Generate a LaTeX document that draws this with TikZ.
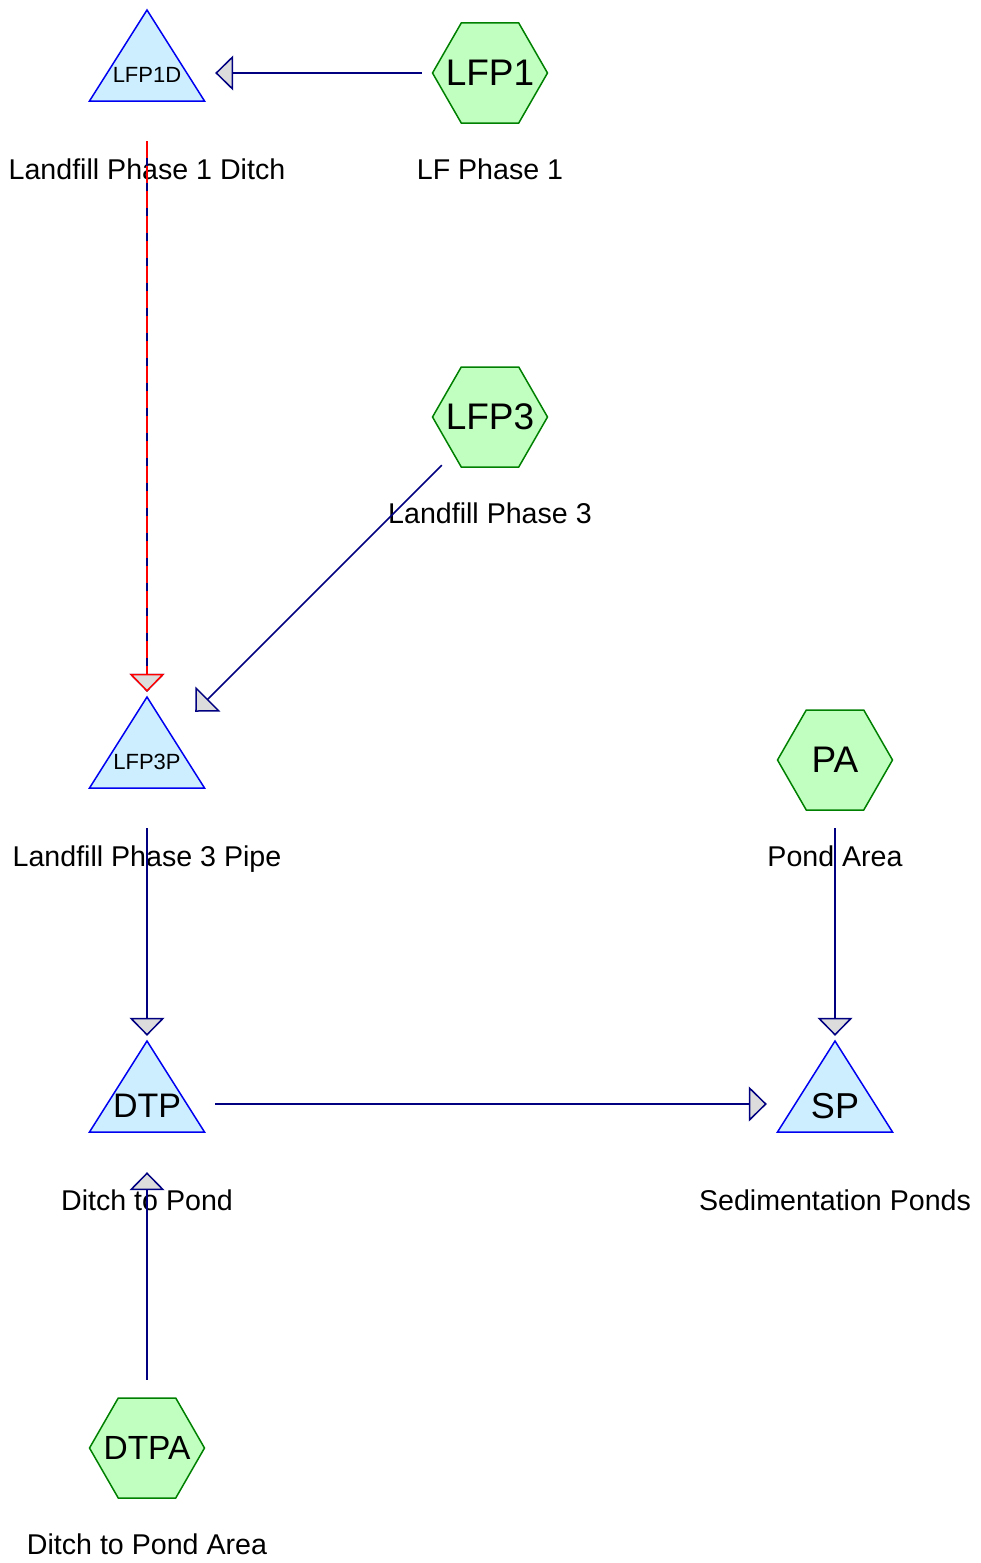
\documentclass[tikz,border=0pt]{standalone}
\usepackage{fontspec}
\setmainfont{Liberation Sans}
\usetikzlibrary{arrows.meta}
\definecolor{linkblue}{HTML}{000080}
\definecolor{tipgray}{HTML}{DCDCDC}
\definecolor{hexfill}{HTML}{C0FFC0}
\definecolor{hexline}{HTML}{008000}
\definecolor{trifill}{HTML}{CCEEFF}
\definecolor{triline}{HTML}{0000F0}
\newcommand{\lowered}[1]{\raisebox{-2pt}[\height][0pt]{#1}}
\begin{document}
\begin{tikzpicture}[x=1pt, y=-1pt,
  every node/.style={inner sep=0pt},
  sz/.style={font=\fontsize{#1pt}{#1pt}\selectfont},
  hexa/.style={circle, minimum size=136pt,
    path picture={\draw [draw=hexline, fill=hexfill, line width=1.5pt]
      ([xshift=-57.5pt]path picture bounding box.center) -- ++(28.75,-50) -- ++(57.5,0)
      -- ++(28.75,50) -- ++(-28.75,50) -- ++(-57.5,0) -- cycle;}},
  tri/.style={circle, minimum size=136pt,
    path picture={\draw [draw=triline, fill=trifill, line width=1.5pt]
      ([yshift=63pt]path picture bounding box.center) -- ++(57.5,91) -- ++(-115,0) -- cycle;}},
  nametag/.style={sz=28.6, anchor=base},
  link/.style={draw=linkblue, line width=1.5pt,
    -{Triangle[length=18pt, width=35pt, fill=tipgray]}}]
\useasboundingbox (0,0) rectangle (981,1563);
\node [tri, sz=22] (lfp1d) at (147,73) {\lowered{LFP1D}};
\node [hexa, sz=37] (lfp1) at (490,73) {LFP1};
\node [hexa, sz=37] (lfp3) at (490,417) {LFP3};
\node [tri, sz=22] (lfp3p) at (147,760) {\lowered{LFP3P}};
\node [hexa, sz=37] (pa) at (835,760) {PA};
\node [tri, sz=34] (dtp) at (147,1104) {\lowered{DTP}};
\node [tri, sz=36] (sp) at (835,1104) {\lowered{SP}};
\node [hexa, sz=33.5] (dtpa) at (147,1448) {DTPA};
\node [nametag] (lfp1d-tag) at (147,179) {Landfill Phase 1 Ditch};
\node [nametag] (lfp1-tag) at (490,179) {LF Phase 1};
\node [nametag] (lfp3-tag) at (490,523) {Landfill Phase 3};
\node [nametag] (lfp3p-tag) at (147,866) {Landfill Phase 3 Pipe};
\node [nametag] (pa-tag) at (835,866) {Pond Area};
\node [nametag] (dtp-tag) at (147,1210) {Ditch to Pond};
\node [nametag] (sp-tag) at (835,1210) {Sedimentation Ponds};
\node [nametag] (dtpa-tag) at (147,1554) {Ditch to Pond Area};
\draw [link] (lfp1) -- (lfp1d);
\draw [link] (lfp1d) -- (lfp3p);
\draw [link, draw=red, dash pattern=on 17pt off 8pt] (lfp1d) -- (lfp3p);
\draw [link] (lfp3) -- (lfp3p);
\draw [link] (lfp3p) -- (dtp);
\draw [link] (pa) -- (sp);
\draw [link] (dtp) -- (sp);
\draw [link] (dtpa) -- (dtp);
\end{tikzpicture}
\end{document}
